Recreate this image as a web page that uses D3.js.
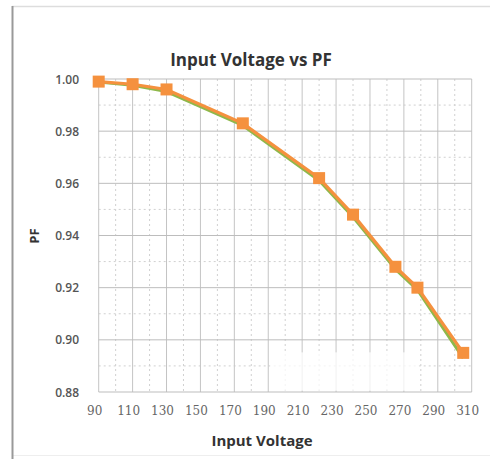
<!DOCTYPE html>
<html><head><meta charset="utf-8">
<script src="https://cdn.jsdelivr.net/npm/d3@7"></script>
<style>body{margin:0;background:#fff}svg{display:block}</style>
</head><body><svg id="c" width="490" height="459"></svg>
<script>
const voltage = [90, 110, 130, 175, 220, 240, 265, 278, 305];
const pfMeasured = [0.999, 0.998, 0.996, 0.983, 0.962, 0.948, 0.928, 0.920, 0.895];
const pfTrend = [0.9988, 0.9976, 0.9952, 0.9822, 0.9611, 0.9471, 0.9271, 0.9191, 0.8930];
const xTicks = [90,110,130,150,170,190,210,230,250,270,290,310];
const yTicks = [0.88,0.90,0.92,0.94,0.96,0.98,1.00];

const svg = d3.select('#c');
const x = d3.scaleLinear().domain([90,310]).range([98.7,471.7]);
const y = d3.scaleLinear().domain([0.88,1.00]).range([392,79]);

// frame
svg.append('line').attr('x1',12).attr('x2',490).attr('y1',6.5).attr('y2',6.5).attr('stroke','#ddd').attr('stroke-width',1.5);
svg.append('line').attr('x1',12).attr('x2',490).attr('y1',455.5).attr('y2',455.5).attr('stroke','#eee').attr('stroke-width',1);
svg.append('line').attr('x1',12.5).attr('x2',12.5).attr('y1',6).attr('y2',459).attr('stroke','#999').attr('stroke-width',2);

const g = svg.append('g');
// minor gridlines
const xMinor = d3.range(100,310,20);
const yMinor = d3.range(0.89,1.0,0.02);
g.selectAll('.xm').data(xMinor).join('line').attr('x1',d=>x(d)).attr('x2',d=>x(d)).attr('y1',y(1)).attr('y2',y(0.88))
  .attr('stroke','#d0d0d0').attr('stroke-dasharray','2,3').attr('stroke-width',1);
g.selectAll('.ym').data(yMinor).join('line').attr('x1',x(90)).attr('x2',x(310)).attr('y1',d=>y(d)).attr('y2',d=>y(d))
  .attr('stroke','#d0d0d0').attr('stroke-dasharray','2,3').attr('stroke-width',1);
// major
g.selectAll('.xM').data(xTicks).join('line').attr('x1',d=>x(d)).attr('x2',d=>x(d)).attr('y1',y(1)).attr('y2',y(0.88))
  .attr('stroke','#c4c4c4').attr('stroke-width',1);
g.selectAll('.yM').data(yTicks).join('line').attr('x1',x(90)).attr('x2',x(310)).attr('y1',d=>y(d)).attr('y2',d=>y(d))
  .attr('stroke','#bdbdbd').attr('stroke-width',1);
// faded patch (scan artifact)
g.append('rect').attr('x',x(191)).attr('y',y(0.8952)).attr('width',x(279)-x(191)).attr('height',y(0.8805)-y(0.8952))
  .attr('fill','#fff').attr('opacity',0.75);

// tick labels
svg.selectAll('.yl').data(yTicks).join('text').attr('x',79).attr('y',d=>y(d)+4.5).attr('text-anchor','end')
  .attr('font-family','Open Sans, Liberation Sans, sans-serif').attr('font-size',12).attr('font-weight',600).attr('fill','#555')
  .text(d=>d.toFixed(2));
svg.selectAll('.xl').data(xTicks).join('text').attr('x',d=>x(d)-4).attr('y',415).attr('text-anchor','middle')
  .attr('font-family','DejaVu Serif, Liberation Serif, serif').attr('font-size',12).attr('fill','#666')
  .text(d=>d);

// series
const line = d3.line().x((d,i)=>x(voltage[i])).y(d=>y(d));
svg.append('path').datum(pfTrend).attr('d',line).attr('fill','none').attr('stroke','#8fb84a').attr('stroke-width',3);
svg.append('path').datum(pfMeasured).attr('d',line).attr('fill','none').attr('stroke','#f5913e').attr('stroke-width',3.2);
svg.selectAll('.mk').data(pfMeasured).join('rect').attr('x',(d,i)=>x(voltage[i])-6).attr('y',d=>y(d)-6)
  .attr('width',12).attr('height',12).attr('fill','#f5913e');

// titles
svg.append('text').attr('x',251).attr('y',66).attr('text-anchor','middle')
  .attr('font-family','Open Sans, Liberation Sans, sans-serif').attr('font-weight',700).attr('font-size',17).attr('fill','#333')
  .text('Input Voltage vs PF');
svg.append('text').attr('x',262).attr('y',446).attr('text-anchor','middle')
  .attr('font-family','Open Sans, Liberation Sans, sans-serif').attr('font-weight',700).attr('font-size',15).attr('fill','#333')
  .text('Input Voltage');
svg.append('text').attr('transform','translate(39,236) rotate(-90)').attr('text-anchor','middle')
  .attr('font-family','Open Sans, Liberation Sans, sans-serif').attr('font-weight',700).attr('font-size',13).attr('fill','#333')
  .text('PF');
</script></body></html>
